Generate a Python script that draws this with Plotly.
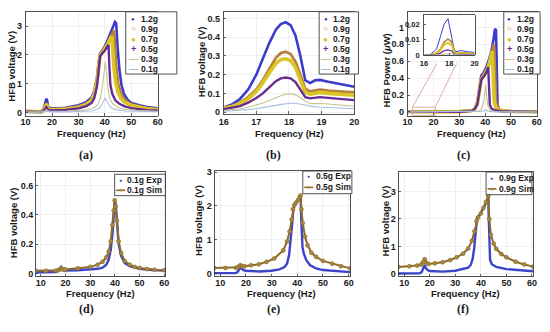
import plotly.graph_objects as go

W, H = 550, 332

# ---------------- data ----------------
# (a) HFB voltage, 10-60 Hz
fa12 = [10, 14, 16, 16.8, 17.3, 17.6, 17.9, 18.2, 18.5, 19, 20, 25, 30, 33, 35, 36, 37, 37.6, 38.2, 39, 40, 41, 42, 43, 43.8, 44.3, 44.8, 45.5, 46.3, 47.2, 48.5, 50, 53, 56, 60]
va12 = [0.05, 0.04, 0.03, 0.13, 0.34, 0.45, 0.48, 0.4, 0.16, 0.17, 0.135, 0.16, 0.25, 0.36, 0.52, 0.75, 1.2, 1.7, 2.05, 2.15, 2.3, 2.5, 2.7, 2.95, 3.15, 3.1, 2.3, 1.5, 0.95, 0.65, 0.45, 0.33, 0.25, 0.19, 0.14]
fa09 = [10, 16, 16.8, 17.3, 17.6, 17.9, 18.2, 18.5, 19, 20, 25, 30, 33, 35, 36, 37, 37.6, 38.2, 39, 40, 41, 42, 43, 43.4, 43.8, 44.3, 45, 46, 47, 48.5, 50, 53, 56, 60]
va09 = [0.04, 0.02, 0.09, 0.22, 0.3, 0.32, 0.25, 0.12, 0.12, 0.105, 0.13, 0.2, 0.3, 0.45, 0.68, 1.1, 1.6, 2.0, 2.1, 2.25, 2.4, 2.6, 2.8, 2.85, 2.4, 1.6, 1.0, 0.7, 0.5, 0.36, 0.28, 0.2, 0.15, 0.11]
fa07 = [10, 16, 16.8, 17.3, 17.6, 17.85, 18.2, 18.5, 19, 20, 25, 30, 33, 35, 36, 37, 37.6, 38.2, 39, 40, 41, 42, 42.6, 43, 43.5, 44.2, 45, 46, 47.5, 50, 53, 56, 60]
va07 = [0.035, 0.02, 0.08, 0.19, 0.27, 0.285, 0.22, 0.1, 0.105, 0.09, 0.12, 0.18, 0.28, 0.42, 0.62, 1.05, 1.55, 1.98, 2.08, 2.2, 2.35, 2.55, 2.65, 2.2, 1.5, 1.0, 0.7, 0.5, 0.35, 0.25, 0.18, 0.13, 0.09]
fa05 = [10, 16, 16.8, 17.3, 17.6, 17.85, 18.2, 18.5, 19, 20, 25, 30, 33, 35, 36, 37, 37.6, 38.2, 39, 40, 41, 41.4, 41.7, 42.1, 42.8, 44, 45.5, 47.5, 50, 53, 56, 60]
va05 = [0.025, 0.015, 0.06, 0.12, 0.17, 0.185, 0.15, 0.08, 0.08, 0.07, 0.09, 0.14, 0.22, 0.33, 0.5, 0.9, 1.4, 1.95, 2.05, 2.15, 2.3, 2.35, 1.6, 0.95, 0.65, 0.42, 0.3, 0.21, 0.15, 0.11, 0.08, 0.06]
fa03 = [10, 16, 17, 18, 18.5, 19, 20, 25, 30, 33, 35, 36.5, 37.5, 38.3, 39, 39.6, 40.2, 40.7, 41.2, 42, 43, 45, 48, 52, 56, 60]
va03 = [0.01, 0.01, 0.045, 0.098, 0.05, 0.045, 0.035, 0.04, 0.06, 0.09, 0.13, 0.2, 0.3, 0.5, 0.85, 1.3, 1.76, 1.3, 0.8, 0.45, 0.3, 0.17, 0.1, 0.07, 0.05, 0.04]
fa01 = [10, 16, 17, 18, 18.6, 20, 25, 30, 33, 35, 37, 38, 39, 39.6, 40.1, 40.6, 41.2, 42, 43, 45, 48, 52, 56, 60]
va01 = [0.005, 0.005, 0.02, 0.046, 0.03, 0.018, 0.02, 0.025, 0.035, 0.05, 0.1, 0.16, 0.3, 0.42, 0.49, 0.42, 0.3, 0.19, 0.13, 0.08, 0.05, 0.035, 0.028, 0.022]

# (b) HFB voltage, 16-20 Hz
fb = [16, 16.25, 16.5, 16.75, 17, 17.2, 17.4, 17.6, 17.75, 17.9, 18.05, 18.2, 18.35, 18.5, 18.65, 18.8, 18.95, 19.2, 19.5, 19.75, 20]
vb12 = [0.025, 0.04, 0.07, 0.12, 0.2, 0.29, 0.37, 0.44, 0.47, 0.48, 0.465, 0.41, 0.3, 0.17, 0.155, 0.17, 0.172, 0.162, 0.152, 0.143, 0.135]
vb09 = [0.02, 0.03, 0.05, 0.08, 0.12, 0.17, 0.23, 0.29, 0.315, 0.322, 0.31, 0.27, 0.2, 0.125, 0.11, 0.115, 0.12, 0.115, 0.11, 0.107, 0.105]
vb07 = [0.02, 0.03, 0.045, 0.07, 0.11, 0.155, 0.21, 0.26, 0.28, 0.285, 0.275, 0.24, 0.17, 0.105, 0.095, 0.1, 0.105, 0.1, 0.095, 0.092, 0.09]
vb05 = [0.015, 0.022, 0.032, 0.05, 0.075, 0.1, 0.135, 0.165, 0.18, 0.185, 0.18, 0.16, 0.12, 0.08, 0.073, 0.077, 0.08, 0.076, 0.071, 0.067, 0.064]
vb03 = [0.008, 0.012, 0.018, 0.026, 0.037, 0.048, 0.062, 0.077, 0.087, 0.095, 0.098, 0.092, 0.078, 0.058, 0.046, 0.045, 0.046, 0.043, 0.038, 0.034, 0.031]
vb01 = [0.004, 0.006, 0.009, 0.013, 0.018, 0.023, 0.029, 0.036, 0.041, 0.045, 0.047, 0.047, 0.044, 0.038, 0.032, 0.028, 0.026, 0.024, 0.021, 0.019, 0.018]

# (c) HFB power (uW)
fc12 = [10, 20, 30, 35, 36, 37, 37.8, 38.5, 39.5, 40.5, 41.5, 42.5, 43.3, 43.8, 44.2, 44.5, 44.8, 45.5, 47, 50, 60]
pc12 = [0.003, 0.003, 0.006, 0.02, 0.04, 0.12, 0.3, 0.43, 0.47, 0.53, 0.62, 0.73, 0.87, 0.98, 0.97, 0.5, 0.08, 0.03, 0.015, 0.008, 0.002]
fc09 = [10, 20, 30, 35, 36, 37, 37.8, 38.5, 39.5, 40.5, 41.5, 42.5, 43.4, 43.8, 44.2, 45, 47, 50, 60]
pc09 = [0.002, 0.002, 0.004, 0.02, 0.04, 0.11, 0.27, 0.4, 0.45, 0.5, 0.57, 0.68, 0.8, 0.5, 0.12, 0.04, 0.015, 0.007, 0.002]
fc07 = [10, 20, 30, 35, 36, 37, 37.8, 38.5, 39.5, 40.5, 41.5, 42.7, 43.1, 43.6, 44.5, 47, 50, 60]
pc07 = [0.002, 0.002, 0.004, 0.018, 0.038, 0.1, 0.25, 0.38, 0.43, 0.48, 0.56, 0.72, 0.45, 0.1, 0.04, 0.013, 0.006, 0.002]
fc05 = [10, 20, 30, 35, 36, 37, 37.8, 38.5, 39.5, 40.5, 41.2, 41.5, 41.8, 42.5, 44, 47, 50, 60]
pc05 = [0.001, 0.001, 0.003, 0.015, 0.035, 0.09, 0.24, 0.38, 0.42, 0.47, 0.53, 0.3, 0.09, 0.04, 0.018, 0.006, 0.003, 0.001]
fc03 = [10, 30, 36, 37.5, 38.5, 39.3, 39.8, 40.2, 40.6, 41.1, 42, 44, 50, 60]
pc03 = [0.0, 0.001, 0.004, 0.01, 0.03, 0.1, 0.2, 0.32, 0.18, 0.07, 0.02, 0.005, 0.001, 0.0]
fc01 = [10, 30, 37, 38.5, 39.5, 40.1, 40.7, 42, 45, 60]
pc01 = [0.0, 0.0, 0.002, 0.008, 0.018, 0.025, 0.018, 0.004, 0.001, 0.0]

# (c) inset, 16-20 Hz
fi = [16, 16.5, 17, 17.3, 17.6, 17.9, 18.2, 18.4, 18.6, 18.9, 19.5, 20]
pi12 = [0.0001, 0.0005, 0.004, 0.0115, 0.02, 0.0235, 0.011, 0.003, 0.0024, 0.003, 0.0022, 0.0018]
pi09 = [0.00005, 0.0003, 0.0015, 0.004, 0.0085, 0.0105, 0.0085, 0.002, 0.0012, 0.0015, 0.0012, 0.0011]
pi07 = [0.00004, 0.0002, 0.0012, 0.0033, 0.0068, 0.008, 0.0065, 0.0014, 0.0009, 0.0011, 0.0009, 0.0008]
pi05 = [0.00002, 0.0001, 0.0006, 0.0014, 0.003, 0.0035, 0.0028, 0.0008, 0.0005, 0.0006, 0.0005, 0.0004]
pi03 = [0.0, 0.00004, 0.0002, 0.0004, 0.0007, 0.0009, 0.0009, 0.0004, 0.0002, 0.0002, 0.00015, 0.0001]
pi01 = [0.0, 0.0, 0.00004, 0.0001, 0.00016, 0.0002, 0.0002, 0.0002, 0.0001, 0.0001, 0.00005, 0.00003]

# (d) 0.1g experiment vs simulation
fd_exp = [8, 12, 16, 17, 17.6, 18.2, 18.8, 20, 25, 30, 33, 35, 36.5, 37.5, 38.3, 39, 39.5, 39.9, 40.3, 40.8, 41.5, 42.5, 44, 46, 50, 55, 59.5, 60]
vd_exp = [0.008, 0.008, 0.01, 0.018, 0.035, 0.045, 0.028, 0.02, 0.022, 0.026, 0.032, 0.04, 0.06, 0.095, 0.16, 0.27, 0.4, 0.5, 0.48, 0.33, 0.2, 0.12, 0.07, 0.05, 0.032, 0.024, 0.02, 0.028]
fd_sim = [8, 12, 16, 17, 17.6, 18.2, 18.8, 19.5, 20, 25, 30, 33, 35, 36.5, 37.5, 38.3, 39, 39.5, 39.9, 40.3, 40.8, 41.5, 42.5, 44, 46, 48, 50, 53, 56, 60]
vd_sim = [0.018, 0.018, 0.019, 0.022, 0.028, 0.034, 0.028, 0.026, 0.028, 0.035, 0.045, 0.06, 0.08, 0.11, 0.15, 0.22, 0.33, 0.43, 0.5, 0.46, 0.36, 0.22, 0.14, 0.085, 0.06, 0.045, 0.038, 0.03, 0.026, 0.022]

# (e) 0.5g
fe_exp = [7.7, 12, 16, 16.8, 17.4, 17.9, 18.4, 19, 20, 25, 30, 33, 35, 36, 36.8, 37.4, 37.9, 38.4, 39, 40, 41, 41.3, 41.5, 41.7, 42, 42.5, 43.5, 45, 47.3, 50, 53.6, 57, 60.6]
ve_exp = [0.02, 0.02, 0.025, 0.06, 0.15, 0.19, 0.15, 0.11, 0.09, 0.07, 0.09, 0.13, 0.2, 0.3, 0.55, 0.95, 1.4, 1.85, 2.05, 2.15, 2.27, 2.3, 1.7, 1.1, 0.8, 0.6, 0.4, 0.25, 0.16, 0.11, 0.09, 0.07, 0.05]
fe_sim = [7.7, 12, 16, 16.8, 17.4, 17.9, 18.5, 19.5, 22, 25, 28, 31, 34.5, 36, 37, 37.8, 38.3, 38.8, 39.5, 40.3, 41.0, 41.3, 41.6, 42.1, 43, 44, 45.5, 47.3, 50, 53.6, 57, 60.6]
ve_sim = [0.17, 0.17, 0.175, 0.19, 0.23, 0.25, 0.22, 0.22, 0.25, 0.28, 0.35, 0.45, 0.69, 0.95, 1.25, 1.6, 1.9, 2.02, 2.1, 2.18, 2.27, 2.31, 1.9, 1.5, 1.1, 0.84, 0.62, 0.5, 0.38, 0.3, 0.22, 0.16]

# (f) 0.9g
ff_exp = [7.7, 12, 16, 16.8, 17.4, 18, 18.5, 19.2, 20, 25, 30, 33, 35, 36, 36.8, 37.4, 37.9, 38.5, 39.5, 40.5, 41.5, 42.5, 42.9, 43.1, 43.3, 43.6, 44.3, 46, 50, 54, 60.5]
vf_exp = [0.01, 0.01, 0.015, 0.06, 0.2, 0.32, 0.2, 0.13, 0.1, 0.08, 0.11, 0.16, 0.22, 0.32, 0.55, 0.95, 1.5, 2.05, 2.15, 2.3, 2.48, 2.7, 2.85, 2.0, 1.0, 0.5, 0.35, 0.25, 0.17, 0.13, 0.09]
ff_sim = [7.7, 12, 15, 16.5, 17.3, 18, 18.6, 19.5, 22, 25, 28, 30.5, 33, 35, 36.5, 37.5, 38.3, 38.9, 40, 41, 42, 42.9, 43.3, 43.9, 45, 46, 48, 50, 53.6, 57, 60.5]
vf_sim = [0.25, 0.27, 0.3, 0.33, 0.42, 0.53, 0.4, 0.36, 0.38, 0.42, 0.5, 0.6, 0.73, 0.92, 1.2, 1.55, 1.92, 2.05, 2.2, 2.4, 2.62, 2.85, 2.0, 1.42, 1.1, 0.91, 0.72, 0.6, 0.44, 0.34, 0.26]

levels = ["1.2g", "0.9g", "0.7g", "0.5g", "0.3g", "0.1g"]
xticks_wide = [10, 20, 30, 40, 50, 60]

# ---------------- styling ----------------
C12, C09, C07, C05, C03, C01 = "#3c3ccc", "#b8803a", "#d9c526", "#6b2c91", "#c2c58a", "#a9bde6"
C_EXP, C_SIM, C_SIMM = "#3c44c8", "#8c6a2c", "#a8883e"
LW = {"1.2g": 2.6, "0.9g": 2.8, "0.7g": 3.6, "0.5g": 2.4, "0.3g": 1.1, "0.1g": 1.1}
COL = dict(zip(levels, [C12, C09, C07, C05, C03, C01]))

SANS = "Liberation Sans"
TXT = "#1a1a1a"


def px(x):
    return x / W


def py(y):
    return 1 - y / H


def axis(dom, rng, anchor, tickvals, ticktext=None, fsize=9, grid=True, standoff=0):
    d = dict(domain=dom, range=rng, anchor=anchor, showline=True, linecolor="#262626",
             linewidth=0.8, mirror=True, showgrid=grid, gridcolor="#e6e6e6", gridwidth=0.6,
             zeroline=False, ticks="inside", ticklen=2.5, tickcolor="#262626", tickwidth=0.7,
             tickvals=tickvals, fixedrange=True, ticklabelstandoff=standoff,
             tickfont=dict(family=SANS, size=fsize, color=TXT, weight="bold"))
    if ticktext is not None:
        d["ticktext"] = ticktext
    return d


fig = go.Figure()


def add(xs, ys, ax, color, width, name, mode="lines", marker=None):
    tr = dict(x=xs, y=ys, xaxis="x" + ax, yaxis="y" + ax, mode=mode, name=name,
              line=dict(color=color, width=width), showlegend=False, hoverinfo="skip")
    if marker:
        tr["marker"] = marker
    fig.add_trace(go.Scatter(**tr))


A = [(fa12, va12), (fa09, va09), (fa07, va07), (fa05, va05), (fa03, va03), (fa01, va01)]
for lv, (xs, ys) in zip(levels, A):
    add(xs, ys, "", COL[lv], LW[lv], lv)
B = [vb12, vb09, vb07, vb05, vb03, vb01]
for lv, ys in zip(levels, B):
    add(fb, ys, "2", COL[lv], LW[lv], lv)
Cc = [(fc12, pc12), (fc09, pc09), (fc07, pc07), (fc05, pc05), (fc03, pc03), (fc01, pc01)]
for lv, (xs, ys) in zip(levels, Cc):
    add(xs, ys, "3", COL[lv], LW[lv], lv)
Ci = [pi12, pi09, pi07, pi05, pi03, pi01]
inset_w = {"1.2g": 1.0, "0.9g": 1.6, "0.7g": 2.0, "0.5g": 1.2, "0.3g": 0.9, "0.1g": 0.9}
for lv, ys in zip(levels, Ci):
    add(fi, ys, "7", COL[lv], inset_w[lv], lv)

sim_marker = dict(size=4, color=C_SIMM, line=dict(color=C_SIM, width=0.6))
for ax, (fx, vx, fs, vs) in zip(["4", "5", "6"], [(fd_exp, vd_exp, fd_sim, vd_sim),
                                                   (fe_exp, ve_exp, fe_sim, ve_sim),
                                                   (ff_exp, vf_exp, ff_sim, vf_sim)]):
    add(fx, vx, ax, C_EXP, 2.4, "Exp")
    add(fs, vs, ax, C_SIM, 2.0, "Sim", mode="lines+markers", marker=sim_marker)

# ---------------- axes ----------------
lay = {}
XS = -2
lay["xaxis"] = axis([px(21), px(155.5)], [10, 60], "y", xticks_wide, standoff=XS)
lay["yaxis"] = axis([py(115), py(8)], [-0.12, 3.5], "x", [0, 1, 2, 3], standoff=1)
lay["xaxis2"] = axis([px(222.7), px(355.7)], [16, 20], "y2", [16, 17, 18, 19, 20], standoff=-1)
lay["yaxis2"] = axis([py(113), py(8)], [-0.01, 0.536], "x2", [0, 0.1, 0.2, 0.3, 0.4, 0.5], standoff=1)
lay["xaxis3"] = axis([px(410), px(541.7)], [10, 60], "y3", xticks_wide, standoff=XS)
lay["yaxis3"] = axis([py(115), py(8)], [-0.046, 1.184], "x3", [0, 0.2, 0.4, 0.6, 0.8, 1],
                     ["0", "0.2", "0.4", "0.6", "0.8", "1"], standoff=1)
lay["xaxis4"] = axis([px(31.5), px(163.5)], [8, 60.5], "y4", xticks_wide, standoff=XS)
lay["yaxis4"] = axis([py(280), py(172.7)], [-0.02, 0.693], "x4", [0, 0.2, 0.4, 0.6])
lay["xaxis5"] = axis([px(213.3), px(351.7)], [7.7, 60.65], "y5", xticks_wide, standoff=XS)
lay["yaxis5"] = axis([py(280), py(171.7)], [-0.077, 3.03], "x5", [0, 1, 2, 3])
lay["xaxis6"] = axis([px(400.7), px(538)], [7.7, 60.5], "y6", xticks_wide, standoff=XS)
lay["yaxis6"] = axis([py(280), py(172.7)], [-0.096, 3.71], "x6", [0, 1, 2, 3])
lay["xaxis7"] = axis([px(426.7), px(478.3)], [16, 20], "y7", [16, 18, 20], fsize=7.5, grid=False,
                     standoff=1)
lay["yaxis7"] = axis([py(52.7), py(11.7)], [0, 0.0256], "x7", [0, 0.01, 0.02],
                     ["0", "0.01", "0.02"], fsize=7.5, grid=False, standoff=2)

ann = []
shapes = []


def text(x, y, s, size=9.5, angle=0, family=SANS, color=TXT, xanchor="center", bold=True):
    ann.append(dict(x=px(x), y=py(y), xref="paper", yref="paper", text=s, showarrow=False,
                    textangle=angle, xanchor=xanchor, yanchor="middle",
                    font=dict(family=family, size=size, color=color,
                              weight="bold" if bold else "normal")))


# axis titles
for (x, y) in [(88, 133.5), (290, 133.5), (475, 133.5), (97.5, 298), (281.7, 298), (469, 298)]:
    text(x, y, "Frequency (Hz)")
for (x, y) in [(6.5, 64), (200.5, 59), (9.5, 225), (197.5, 222), (388.5, 223)]:
    text(x, y, "HFB voltage (V)", angle=-90)
text(388.5, 68, "HFB Power (<i>μ</i>W)", angle=-90)

# captions
for (x, y, s) in [(83, 155, "(a)"), (273, 155, "(b)"), (467, 155, "(c)"),
                  (83, 313, "(d)"), (273, 313.3, "(e)"), (466, 313.3, "(f)")]:
    text(x, y, s, size=12, family="Liberation Serif")

# legends (top row)
SYM = {"1.2g": ("●", 6), "0.9g": ("○", 8), "0.7g": ("●", 8), "0.5g": ("+", 9),
       "0.3g": ("—", 9), "0.1g": ("—", 9)}
rows = [15, 25.5, 36, 46.5, 57, 67]
for (bx0, bx1, sx, lx) in [(123, 175, 130.5, 136.5), (320, 360, 326.7, 332.5), (508, 545, 513.5, 519)]:
    shapes.append(dict(type="rect", xref="paper", yref="paper", x0=px(bx0), x1=px(bx1),
                       y0=py(72), y1=py(8), line=dict(color="#262626", width=0.8),
                       fillcolor="white", layer="above"))
    for lv, ry in zip(levels, rows):
        s, sz = SYM[lv]
        text(sx, ry, s, size=sz, color=COL[lv], bold=True)
        text(lx, ry, lv, size=8.5, xanchor="left")

# legends (bottom row)
for (bx0, bx1, by0, by1, tag, r1, r2) in [(111.7, 163.3, 175, 197, "0.1g", 181, 191.5),
                                         (303.3, 353.3, 171.7, 195, "0.5g", 177, 188.5),
                                         (490, 536.7, 172.7, 196, "0.9g", 179, 190)]:
    shapes.append(dict(type="rect", xref="paper", yref="paper", x0=px(bx0), x1=px(bx1),
                       y0=py(by1), y1=py(by0), line=dict(color="#262626", width=0.8),
                       fillcolor="white", layer="above"))
    text(bx0 + 6, r1, "●", size=5, color=C_EXP)
    text(bx0 + 11, r1, tag + " Exp", size=8.5, xanchor="left")
    shapes.append(dict(type="line", xref="paper", yref="paper", x0=px(bx0 + 1.5), x1=px(bx0 + 10.5),
                       y0=py(r2), y1=py(r2), line=dict(color=C_SIM, width=1.6), layer="above"))
    text(bx0 + 6, r2, "●", size=6, color=C_SIMM)
    text(bx0 + 11, r2, tag + " Sim", size=8.5, xanchor="left")

# zoom rectangle + connectors in (c)
ZC = "#d49a8a"
shapes.append(dict(type="rect", xref="x3", yref="y3", x0=11.9, x1=20.7, y0=-0.04, y1=0.057,
                   line=dict(color=ZC, width=0.8)))
shapes.append(dict(type="line", xref="x3", yref="y3", x0=11.9, y0=0.057, x1=21.4, y1=0.575,
                   line=dict(color=ZC, width=0.8)))
shapes.append(dict(type="line", xref="x3", yref="y3", x0=20.7, y0=0.057, x1=29.0, y1=0.575,
                   line=dict(color=ZC, width=0.8)))

fig.update_layout(width=W, height=H, margin=dict(l=0, r=0, t=0, b=0), autosize=False,
                  paper_bgcolor="white", plot_bgcolor="white", showlegend=False,
                  annotations=ann, shapes=shapes, **lay)

fig.write_html("out.html", config={"displayModeBar": False, "staticPlot": True},
               post_script="document.body.style.margin='0px';")
